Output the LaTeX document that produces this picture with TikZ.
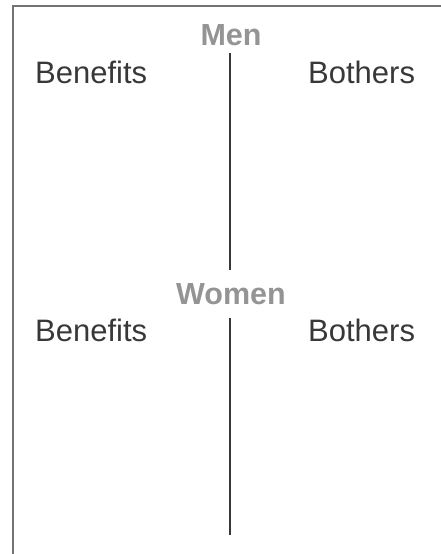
\documentclass[tikz,border=0pt]{standalone}
\usepackage{fontspec}
\setmainfont{Liberation Sans}
\begin{document}
\begin{tikzpicture}[x=1pt,y=-1pt,
  heading/.style={font=\fontsize{30.5}{34}\selectfont\bfseries, text=black!42, inner sep=0pt, anchor=base},
  column/.style={font=\fontsize{31}{35}\selectfont, text=black!78, inner sep=0pt, anchor=base west},
  divider/.style={draw=black!78, line width=1.6pt},
  frame/.style={draw=black!55, line width=1.8pt}]
  \useasboundingbox (0,0) rectangle (440,554);
  % outer frame (continues past the right and bottom edges)
  \coordinate (frameR) at (441,6);
  \coordinate (frameTL) at (13,6);
  \coordinate (frameB) at (13,555);
  \draw[frame] (frameR) -- (frameTL) -- (frameB);
  % Men section
  \node[heading] (men) at (231,45) {Men};
  \node[column] (menBen) at (35,83) {Benefits};
  \node[column] (menBot) at (308,83) {Bothers};
  \coordinate (menTop) at (230,53);
  \coordinate (menBottom) at (230,270);
  \draw[divider] (menTop) -- (menBottom);
  % Women section
  \node[heading] (women) at (231,304) {Women};
  \node[column] (womenBen) at (35,341) {Benefits};
  \node[column] (womenBot) at (308,341) {Bothers};
  \coordinate (womenTop) at (230,318);
  \coordinate (womenBottom) at (230,535);
  \draw[divider] (womenTop) -- (womenBottom);
\end{tikzpicture}
\end{document}
